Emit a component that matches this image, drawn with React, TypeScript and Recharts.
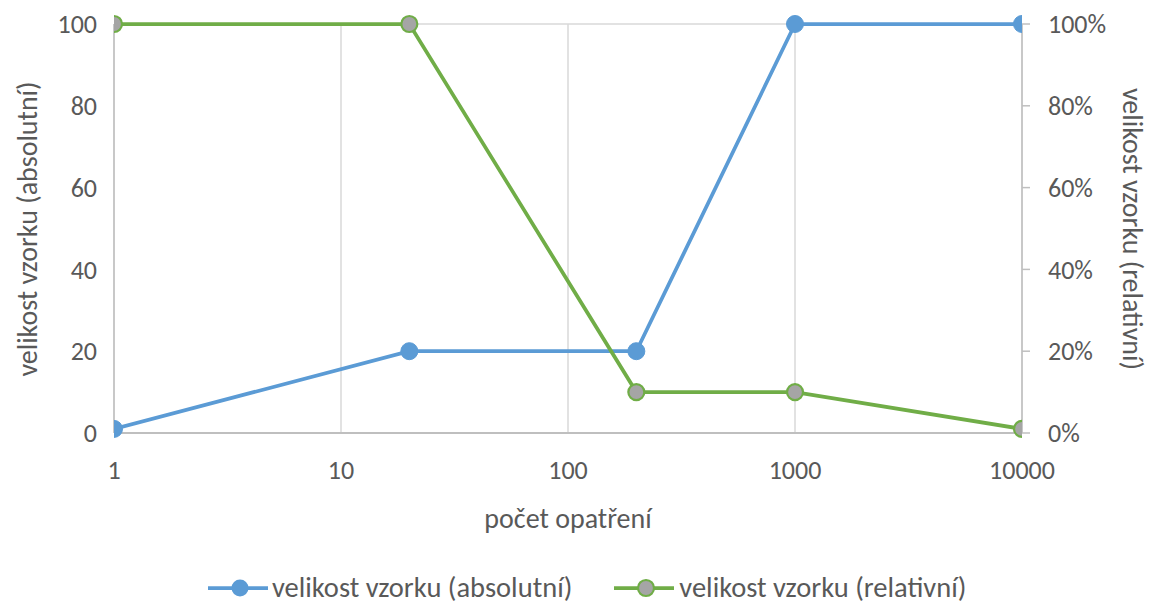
import React from 'react';
import { LineChart, Line, XAxis, YAxis, CartesianGrid, Legend } from 'recharts';

const counts = [1, 20, 200, 1000, 10000];
const absoluteSize = [1, 20, 20, 100, 100];
const relativeSize = [1, 1, 0.1, 0.1, 0.01];
const xTicks = [1, 10, 100, 1000, 10000];
const leftTicks = [0, 20, 40, 60, 80, 100];
const rightTicks = [0, 0.2, 0.4, 0.6, 0.8, 1];

const seriesAbsName = 'velikost vzorku (absolutní)';
const seriesRelName = 'velikost vzorku (relativní)';
const xTitle = 'počet opatření';

const data = counts.map((c, i) => ({ x: c, abs: absoluteSize[i], rel: relativeSize[i] }));

const FONT = 'Carlito, Lato, "Open Sans", sans-serif';
const TEXT = '#595959';
const BLUE = '#5B9BD5';
const GREEN = '#70AD47';
const GRAY = '#A5A5A5';
const TICK_FS = 26;
const TITLE_FS = 28;
const LINE_W = 3.75;

const BlueDot = (props: any) => {
  const { cx, cy } = props;
  if (cx == null || cy == null) return null;
  return <circle key={`b${cx}`} cx={cx} cy={cy} r={8.5} fill={BLUE} stroke={BLUE} strokeWidth={1} />;
};
const GreenDot = (props: any) => {
  const { cx, cy } = props;
  if (cx == null || cy == null) return null;
  return <circle key={`g${cx}`} cx={cx} cy={cy} r={8} fill={GRAY} stroke={GREEN} strokeWidth={2.2} />;
};

const LegendContent = () => (
  <div style={{ display: 'flex', justifyContent: 'flex-start', alignItems: 'center', height: 29, fontFamily: FONT, fontSize: 28.5, color: TEXT, paddingLeft: 208, transform: 'translateY(-5px)', whiteSpace: 'nowrap' }}>
    <svg width={60} height={20} style={{ marginRight: 4 }}>
      <line x1={0} y1={10} x2={60} y2={10} stroke={BLUE} strokeWidth={LINE_W} />
      <circle cx={32} cy={10} r={8.5} fill={BLUE} />
    </svg>
    <span style={{ marginRight: 42 }}>{seriesAbsName}</span>
    <svg width={60} height={20} style={{ marginRight: 5 }}>
      <line x1={0} y1={10} x2={60} y2={10} stroke={GREEN} strokeWidth={LINE_W} />
      <circle cx={32} cy={10} r={8} fill={GRAY} stroke={GREEN} strokeWidth={2.2} />
    </svg>
    <span>{seriesRelName}</span>
  </div>
);

const LeftTitle = () => {
  const x = 27;
  const y = 229;
  return (
    <text x={x} y={y} transform={`rotate(-90 ${x} ${y})`} textAnchor="middle" dominantBaseline="central" fill={TEXT} fontSize={TITLE_FS} fontFamily={FONT}>
      {seriesAbsName}
    </text>
  );
};
const RightTitle = () => {
  const x = 1132;
  const y = 229;
  return (
    <text x={x} y={y} transform={`rotate(90 ${x} ${y})`} textAnchor="middle" dominantBaseline="central" fill={TEXT} fontSize={TITLE_FS} fontFamily={FONT}>
      {seriesRelName}
    </text>
  );
};
const BottomTitle = (props: any) => {
  const vb = props.viewBox;
  const x = vb.x + vb.width / 2;
  const y = vb.y + 85;
  return (
    <text x={x} y={y} textAnchor="middle" dominantBaseline="central" fill={TEXT} fontSize={TITLE_FS} fontFamily={FONT}>
      {xTitle}
    </text>
  );
};

export default function App() {
  return (
    <div style={{ position: 'absolute', left: 0, top: 0, width: 1150, height: 607, background: '#fff' }}>
      <LineChart width={1150} height={607} data={data} margin={{ top: 24, right: 0, bottom: 0, left: 0 }}>
        <CartesianGrid stroke="#D9D9D9" strokeWidth={1.5} />
        <XAxis
          dataKey="x"
          type="number"
          scale="log"
          domain={[1, 10000]}
          ticks={xTicks}
          height={145}
          tickSize={0}
          tickMargin={28}
          axisLine={{ stroke: '#BFBFBF', strokeWidth: 2 }}
          tick={{ fill: TEXT, fontSize: TICK_FS, fontFamily: FONT }}
          allowDataOverflow
          label={<BottomTitle />}
        />
        <YAxis
          yAxisId="left"
          orientation="left"
          domain={[0, 100]}
          ticks={leftTicks}
          width={114}
          tickSize={0}
          tickMargin={17}
          axisLine={{ stroke: '#BFBFBF', strokeWidth: 1.5 }}
          tick={{ fill: TEXT, fontSize: TICK_FS, fontFamily: FONT }}
          label={<LeftTitle />}
        />
        <YAxis
          yAxisId="right"
          orientation="right"
          domain={[0, 1]}
          ticks={rightTicks}
          width={128}
          tickSize={8}
          tickMargin={18}
          tickLine={{ stroke: '#BFBFBF', strokeWidth: 1.5 }}
          axisLine={{ stroke: '#BFBFBF', strokeWidth: 1.5 }}
          tick={{ fill: TEXT, fontSize: TICK_FS, fontFamily: FONT, textAnchor: 'start' }}
          tickFormatter={(v: number) => `${Math.round(v * 100)}%`}
          label={<RightTitle />}
        />
        <Legend verticalAlign="bottom" content={<LegendContent />} />
        <Line yAxisId="left" dataKey="abs" name={seriesAbsName} stroke={BLUE} strokeWidth={LINE_W} dot={<BlueDot />} isAnimationActive={false} />
        <Line yAxisId="right" dataKey="rel" name={seriesRelName} stroke={GREEN} strokeWidth={LINE_W} dot={<GreenDot />} isAnimationActive={false} />
      </LineChart>
    </div>
  );
}
